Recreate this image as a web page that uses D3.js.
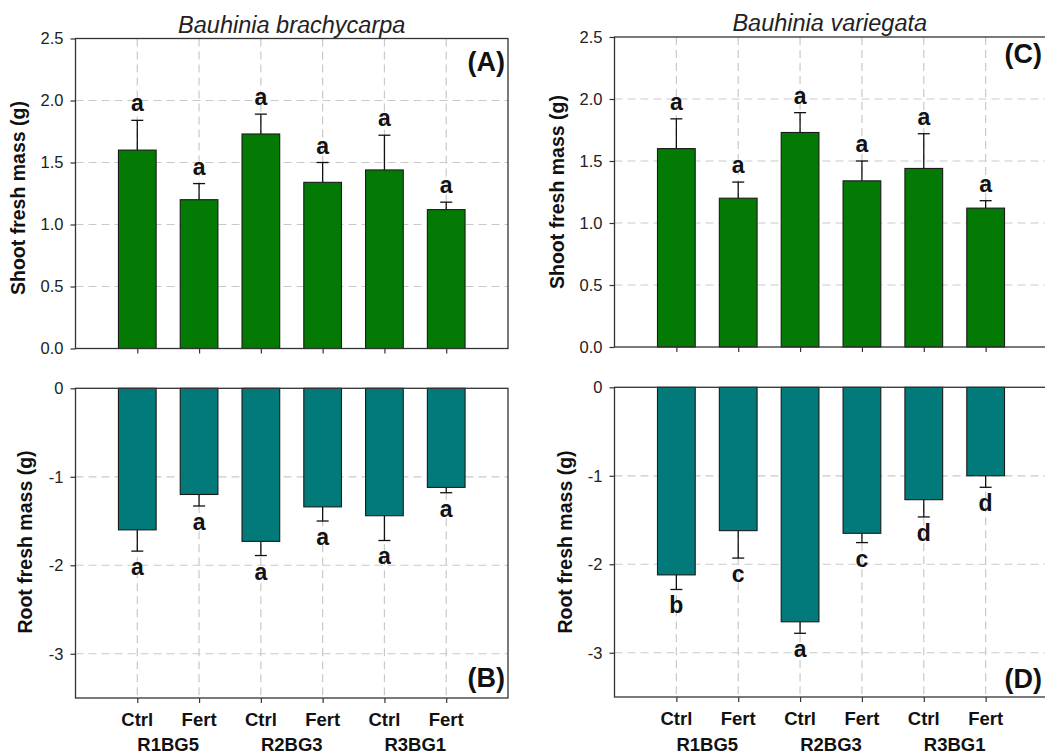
<!DOCTYPE html>
<html>
<head>
<meta charset="utf-8">
<script src="https://cdn.jsdelivr.net/npm/d3@7"></script>
<style>
  html, body { margin: 0; padding: 0; background: #fff; }
  svg { display: block; font-family: "Liberation Sans", Arial, sans-serif; }
</style>
</head>
<body>
<svg id="chart" width="1045" height="755"></svg>
<script>
// Treatments along the x axis and the rhizobium/bacteria groups beneath them
const treatments = ["Ctrl", "Fert", "Ctrl", "Fert", "Ctrl", "Fert"];
const groups = ["R1BG5", "R2BG3", "R3BG1"];

// Bauhinia brachycarpa
const shootBB = [1.60, 1.20, 1.73, 1.34, 1.44, 1.12];
const shootBBErr = [0.24, 0.13, 0.16, 0.16, 0.28, 0.06];
const shootBBSig = ["a", "a", "a", "a", "a", "a"];
const rootBB = [-1.60, -1.20, -1.73, -1.34, -1.44, -1.12];
const rootBBErr = [0.24, 0.13, 0.16, 0.16, 0.28, 0.06];
const rootBBSig = ["a", "a", "a", "a", "a", "a"];

// Bauhinia variegata
const shootBV = [1.60, 1.20, 1.73, 1.34, 1.44, 1.12];
const shootBVErr = [0.24, 0.13, 0.16, 0.16, 0.28, 0.06];
const shootBVSig = ["a", "a", "a", "a", "a", "a"];
const rootBV = [-2.12, -1.62, -2.65, -1.65, -1.27, -1.00];
const rootBVErr = [0.165, 0.31, 0.13, 0.105, 0.195, 0.13];
const rootBVSig = ["b", "c", "a", "c", "d", "d"];

// Axis ticks
const shootTicks = [0, 0.5, 1.0, 1.5, 2.0, 2.5];
const rootTicks = [0, -1, -2, -3];

const svg = d3.select("#chart");

const GREEN = "#037a03";
const TEAL = "#037a7a";
const AXIS = "#333";
const GRID = "#c9c9c9";

const panels = [
  { id: "(A)", left: 75.5, right: 508, top: 38.5, bottom: 348.5, domain: [0, 2.5], ticks: shootTicks,
    fmt: d3.format(".1f"), values: shootBB, errs: shootBBErr, sig: shootBBSig, color: GREEN,
    ytitle: "Shoot fresh mass (g)", ytx: 18, yty: 198, labelY: 62, xlabels: false,
    title: "Bauhinia brachycarpa" },
  { id: "(B)", left: 75.5, right: 508, top: 388.3, bottom: 698, domain: [-3.5, 0], ticks: rootTicks,
    fmt: d => (d < 0 ? "-" : "") + Math.abs(d), values: rootBB, errs: rootBBErr, sig: rootBBSig, color: TEAL,
    ytitle: "Root fresh mass (g)", ytx: 25, yty: 542, labelY: 678, xlabels: true },
  { id: "(C)", left: 614.5, right: 1047.5, top: 37, bottom: 347, domain: [0, 2.5], ticks: shootTicks,
    fmt: d3.format(".1f"), values: shootBV, errs: shootBVErr, sig: shootBVSig, color: GREEN,
    ytitle: "Shoot fresh mass (g)", ytx: 557, yty: 192, labelY: 54, xlabels: false,
    title: "Bauhinia variegata" },
  { id: "(D)", left: 614.5, right: 1047.5, top: 387.3, bottom: 697, domain: [-3.5, 0], ticks: rootTicks,
    fmt: d => (d < 0 ? "-" : "") + Math.abs(d), values: rootBV, errs: rootBVErr, sig: rootBVSig, color: TEAL,
    ytitle: "Root fresh mass (g)", ytx: 565, yty: 542, labelY: 679, xlabels: true }
];

const idx = d3.range(treatments.length);

panels.forEach(p => {
  const g = svg.append("g");
  const x = d3.scalePoint().domain(idx).range([p.left, p.right]).padding(1);
  const y = d3.scaleLinear().domain(p.domain).range([p.bottom, p.top]);
  const barW = x.step() * 0.61;
  const visRight = Math.min(p.right, 1045);

  // dashed grid
  g.append("g").selectAll("line.h")
    .data(p.ticks.filter(t => t !== p.domain[0] && t !== p.domain[1]))
    .join("line")
    .attr("x1", p.left).attr("x2", p.right)
    .attr("y1", d => y(d)).attr("y2", d => y(d))
    .attr("stroke", GRID).attr("stroke-width", 1.2).attr("stroke-dasharray", "8,5");
  g.append("g").selectAll("line.v")
    .data(idx)
    .join("line")
    .attr("x1", d => x(d)).attr("x2", d => x(d))
    .attr("y1", p.top).attr("y2", p.bottom)
    .attr("stroke", GRID).attr("stroke-width", 1.2).attr("stroke-dasharray", "8,5");

  // error bars (one-sided, away from zero)
  const errEnd = i => p.values[i] + Math.sign(p.values[i]) * p.errs[i];
  const eb = g.append("g").attr("stroke", "#111").attr("stroke-width", 1.3);
  eb.selectAll("line.stem").data(idx).join("line")
    .attr("x1", i => x(i)).attr("x2", i => x(i))
    .attr("y1", i => y(p.values[i])).attr("y2", i => y(errEnd(i)));
  eb.selectAll("line.cap").data(idx).join("line")
    .attr("x1", i => x(i) - 6).attr("x2", i => x(i) + 6)
    .attr("y1", i => y(errEnd(i))).attr("y2", i => y(errEnd(i)));

  // bars
  g.append("g").selectAll("rect").data(idx).join("rect")
    .attr("x", i => x(i) - barW / 2)
    .attr("width", barW)
    .attr("y", i => Math.min(y(0), y(p.values[i])))
    .attr("height", i => Math.abs(y(p.values[i]) - y(0)))
    .attr("fill", p.color)
    .attr("stroke", "#1a1a1a").attr("stroke-width", 1.1);

  // significance letters
  g.append("g").selectAll("text").data(idx).join("text")
    .attr("x", i => x(i))
    .attr("y", i => p.values[i] >= 0 ? y(errEnd(i)) - 9 : y(errEnd(i)) + 24)
    .attr("text-anchor", "middle")
    .attr("font-size", 23).attr("font-weight", "bold").attr("fill", "#111")
    .text(i => p.sig[i]);

  // frame
  g.append("rect")
    .attr("x", p.left).attr("y", p.top)
    .attr("width", p.right - p.left).attr("height", p.bottom - p.top)
    .attr("fill", "none").attr("stroke", AXIS).attr("stroke-width", 1.3);

  // y axis
  const yAxis = d3.axisLeft(y).tickValues(p.ticks).tickFormat(p.fmt).tickSizeInner(5).tickSizeOuter(0).tickPadding(7);
  const ya = g.append("g").attr("transform", `translate(${p.left},0)`).call(yAxis);
  ya.select(".domain").remove();
  ya.selectAll("line").attr("stroke", AXIS).attr("stroke-width", 1.2);
  ya.selectAll("text").attr("font-size", 16.5).attr("fill", "#222")
    .attr("font-family", "'Liberation Sans', Arial, sans-serif");

  // x axis ticks
  const xAxis = d3.axisBottom(x).tickSizeInner(5).tickSizeOuter(0).tickFormat(() => "");
  const xa = g.append("g").attr("transform", `translate(0,${p.bottom})`).call(xAxis);
  xa.select(".domain").remove();
  xa.selectAll("line").attr("stroke", AXIS).attr("stroke-width", 1.2);

  // y axis title
  g.append("text")
    .attr("transform", `translate(${p.ytx},${p.yty}) rotate(-90)`)
    .attr("dy", "0.35em")
    .attr("text-anchor", "middle")
    .attr("font-size", 19.5).attr("font-weight", "bold").attr("fill", "#111")
    .text(p.ytitle);

  // panel tag
  g.append("text")
    .attr("x", visRight - 3).attr("y", p.labelY)
    .attr("dy", "0.35em")
    .attr("text-anchor", "end")
    .attr("font-size", 27).attr("font-weight", "bold").attr("fill", "#111")
    .text(p.id);

  if (p.title) {
    g.append("text")
      .attr("x", (p.left + visRight) / 2)
      .attr("y", p.top - 6)
      .attr("text-anchor", "middle")
      .attr("font-size", 23.5).attr("font-style", "italic").attr("fill", "#222")
      .text(p.title);
  }

  if (p.xlabels) {
    g.append("g").selectAll("text").data(idx).join("text")
      .attr("x", i => x(i)).attr("y", p.bottom + 28)
      .attr("text-anchor", "middle")
      .attr("font-size", 18.5).attr("font-weight", "bold").attr("fill", "#111")
      .text(i => treatments[i]);
    g.append("g").selectAll("text").data(groups).join("text")
      .attr("x", (d, k) => (x(2 * k) + x(2 * k + 1)) / 2).attr("y", 750.5)
      .attr("text-anchor", "middle")
      .attr("font-size", 18.5).attr("font-weight", "bold").attr("fill", "#111")
      .text(d => d);
  }
});
</script>
</body>
</html>
